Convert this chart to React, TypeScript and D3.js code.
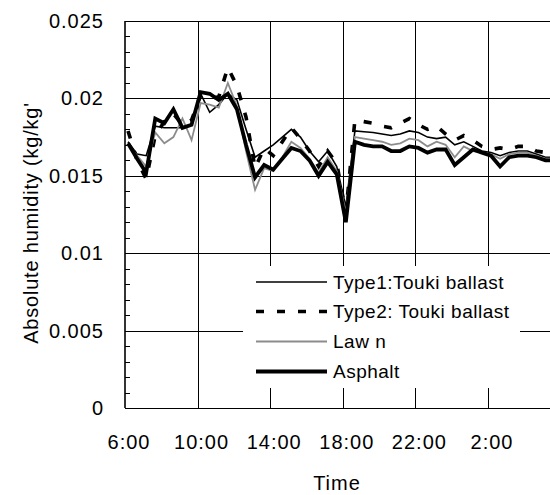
import React from 'react';
import * as d3 from 'd3';

// sampling times (every 30 min, starting 6:10)
const times = [
  '6:10', '6:40', '7:10', '7:40', '8:10', '8:40', '9:10', '9:40', '10:10', '10:40', '11:10', '11:40',
  '12:10', '12:40', '13:10', '13:40', '14:10', '14:40', '15:10', '15:40', '16:10', '16:40', '17:10', '17:40',
  '18:10', '18:40', '19:10', '19:40', '20:10', '20:40', '21:10', '21:40', '22:10', '22:40', '23:10', '23:40',
  '0:10', '0:40', '1:10', '1:40', '2:10', '2:40', '3:10', '3:40', '4:10', '4:40', '5:10', '5:40',
];

// absolute humidity, g/kg' (divided by 1000 when drawn)
const type1 = [
  17.2, 16.4, 16.3, 18.2, 18.1, 18.1, 18.1, 18.3, 20.3, 19.1, 19.6, 20.3, 19.9, 18.0, 16.2, 16.6, 17.0, 17.5,
  18.0, 17.5, 16.6, 15.9, 16.6, 15.6, 13.0,
  17.9, 17.85, 17.8, 17.7, 17.6, 17.7, 17.9, 17.8, 17.5, 17.4, 17.5, 17.0, 17.2, 16.9, 16.6, 16.5, 16.3, 16.5,
  16.6, 16.6, 16.4, 16.2, 16.2,
];
const type2 = [
  17.9, 16.0, 14.8, 17.6, 18.5, 19.0, 18.3, 18.6, 20.2, 20.0, 20.1, 22.0, 20.8, 18.8, 15.5, 16.8, 16.3, 17.2,
  18.1, 17.4, 16.6, 15.6, 16.6, 15.8, 12.6,
  18.6, 18.5, 18.4, 18.2, 18.1, 18.4, 18.7, 18.3, 18.0, 18.2, 17.7, 17.3, 17.6, 17.3, 16.9, 16.7, 16.8, 16.7,
  16.9, 16.9, 16.6, 16.5, 16.5,
];
const lawn = [
  17.0, 16.3, 15.6, 17.8, 17.1, 17.5, 18.7, 17.3, 19.7, 19.6, 19.4, 21.0, 19.5, 16.6, 14.1, 15.5, 15.3, 16.2,
  17.2, 16.8, 16.1, 15.2, 16.2, 15.3, 12.6,
  17.5, 17.4, 17.3, 17.2, 17.0, 17.1, 17.4, 17.3, 16.9, 17.2, 17.0, 16.2, 16.9, 16.6, 16.5, 16.4, 16.1, 16.4,
  16.5, 16.5, 16.3, 16.1, 16.1,
];
const asphalt = [
  17.1, 16.1, 15.2, 18.7, 18.4, 19.3, 18.1, 18.3, 20.4, 20.3, 19.9, 20.3, 19.3, 17.0, 14.9, 15.7, 15.4, 16.1,
  16.8, 16.6, 16.0, 15.0, 15.9, 15.1, 12.0,
  17.2, 17.0, 16.9, 16.9, 16.6, 16.6, 16.9, 16.8, 16.5, 16.7, 16.7, 15.7, 16.2, 16.7, 16.5, 16.3, 15.6, 16.2,
  16.3, 16.3, 16.2, 16.0, 16.0,
];

const xTickLabels = ['6:00', '10:00', '14:00', '18:00', '22:00', '2:00'];
const yTicks = [0, 0.005, 0.01, 0.015, 0.02, 0.025];
const yTickLabels = ['0', '0.005', '0.01', '0.015', '0.02', '0.025'];

const series = [
  { name: 'Type1:Touki ballast', values: type1, color: '#000', width: 1.6, dash: null },
  { name: 'Type2: Touki ballast', values: type2, color: '#000', width: 3.6, dash: '8,13' },
  { name: 'Law n', values: lawn, color: '#8c8c8c', width: 1.8, dash: null },
  { name: 'Asphalt', values: asphalt, color: '#000', width: 3.8, dash: null },
];

// "h:mm" -> hours since midnight, the day running 6:00 .. 6:00
const toHours = (s: string) => {
  const [h, m] = s.split(':').map(Number);
  const v = h + m / 60;
  return v < 6 ? v + 24 : v;
};

const font = '"Liberation Sans", Arial, sans-serif';

export default function App() {
  const left = 125, right = 550, top = 21, bottom = 408;

  const x = d3.scaleLinear().domain([6, 26]).range([left, 488]);
  const y = d3.scaleLinear().domain([0, 0.025]).range([bottom, top]);

  const hours = times.map(toHours);
  const line = d3.line<number>()
    .x((d, i) => x(hours[i]))
    .y(d => y(d / 1000));

  const minor = d3.range(0, 0.025, 0.001).filter((_, i) => i % 5 !== 0);

  // legend box
  const lg = { x: 243, y: 266, w: 277, h: 122, rowY: [282, 311.5, 341.5, 371.5] };

  return (
    <svg width={550} height={495} style={{ position: 'absolute', left: 0, top: 0, background: '#fff' }}
      fontFamily={font}>
      <defs>
        <clipPath id="plot">
          <rect x={left} y={0} width={right - left} height={bottom + 5} />
        </clipPath>
      </defs>

      {/* horizontal gridlines */}
      {yTicks.slice(1).map((t, i) => (
        <line key={i} x1={left} x2={right} y1={Math.round(y(t)) + 0.5} y2={Math.round(y(t)) + 0.5}
          stroke="#000" strokeWidth={1} />
      ))}
      {/* vertical gridlines */}
      {xTickLabels.slice(1).map((lab, i) => {
        const xx = Math.round(x(toHours(lab))) + 0.5;
        return <line key={i} x1={xx} x2={xx} y1={top} y2={bottom} stroke="#000" strokeWidth={1} />;
      })}
      {/* minor ticks on y axis */}
      {minor.map((t, i) => (
        <line key={i} x1={left} x2={left + 5} y1={Math.round(y(t)) + 0.5} y2={Math.round(y(t)) + 0.5}
          stroke="#000" strokeWidth={1} />
      ))}

      <g clipPath="url(#plot)">
        {series.map(s => (
          <path key={s.name} d={line(s.values) || ''} fill="none" stroke={s.color}
            strokeWidth={s.width} strokeDasharray={s.dash || undefined} strokeLinejoin="miter" />
        ))}
      </g>

      {/* axes */}
      <line x1={left} x2={left} y1={top} y2={bottom} stroke="#000" strokeWidth={1.6} />
      <line x1={left} x2={right} y1={bottom + 0.5} y2={bottom + 0.5} stroke="#000" strokeWidth={1.2} />

      {/* legend */}
      <rect x={lg.x} y={lg.y} width={lg.w} height={lg.h} fill="#fff" />
      {series.map((s, i) => (
        <g key={s.name} transform={`translate(0, ${lg.rowY[i]})`}>
          <line x1={256} x2={327} y1={0} y2={0} stroke={s.color} strokeWidth={s.width}
            strokeDasharray={s.dash || undefined} />
          <text x={333} y={6.8} fontSize={19} letterSpacing={0.5} fill="#000">{s.name}</text>
        </g>
      ))}

      {/* y tick labels */}
      {yTicks.map((t, i) => (
        <text key={i} x={104} y={y(t) + 7} textAnchor="end" fontSize={20} letterSpacing={1} fill="#000">
          {yTickLabels[i]}
        </text>
      ))}
      {/* x tick labels */}
      {xTickLabels.map((lab, i) => (
        <text key={i} x={x(toHours(lab)) + 4} y={449} textAnchor="middle" fontSize={20} letterSpacing={1}
          fill="#000">
          {lab}
        </text>
      ))}

      <text x={337} y={490} textAnchor="middle" fontSize={20} letterSpacing={1} fill="#000">Time</text>
      <text transform="translate(38, 223) rotate(-90)" textAnchor="middle" fontSize={20} letterSpacing={0.8}
        fill="#000">
        Absolute humidity (kg/kg'
      </text>
    </svg>
  );
}
